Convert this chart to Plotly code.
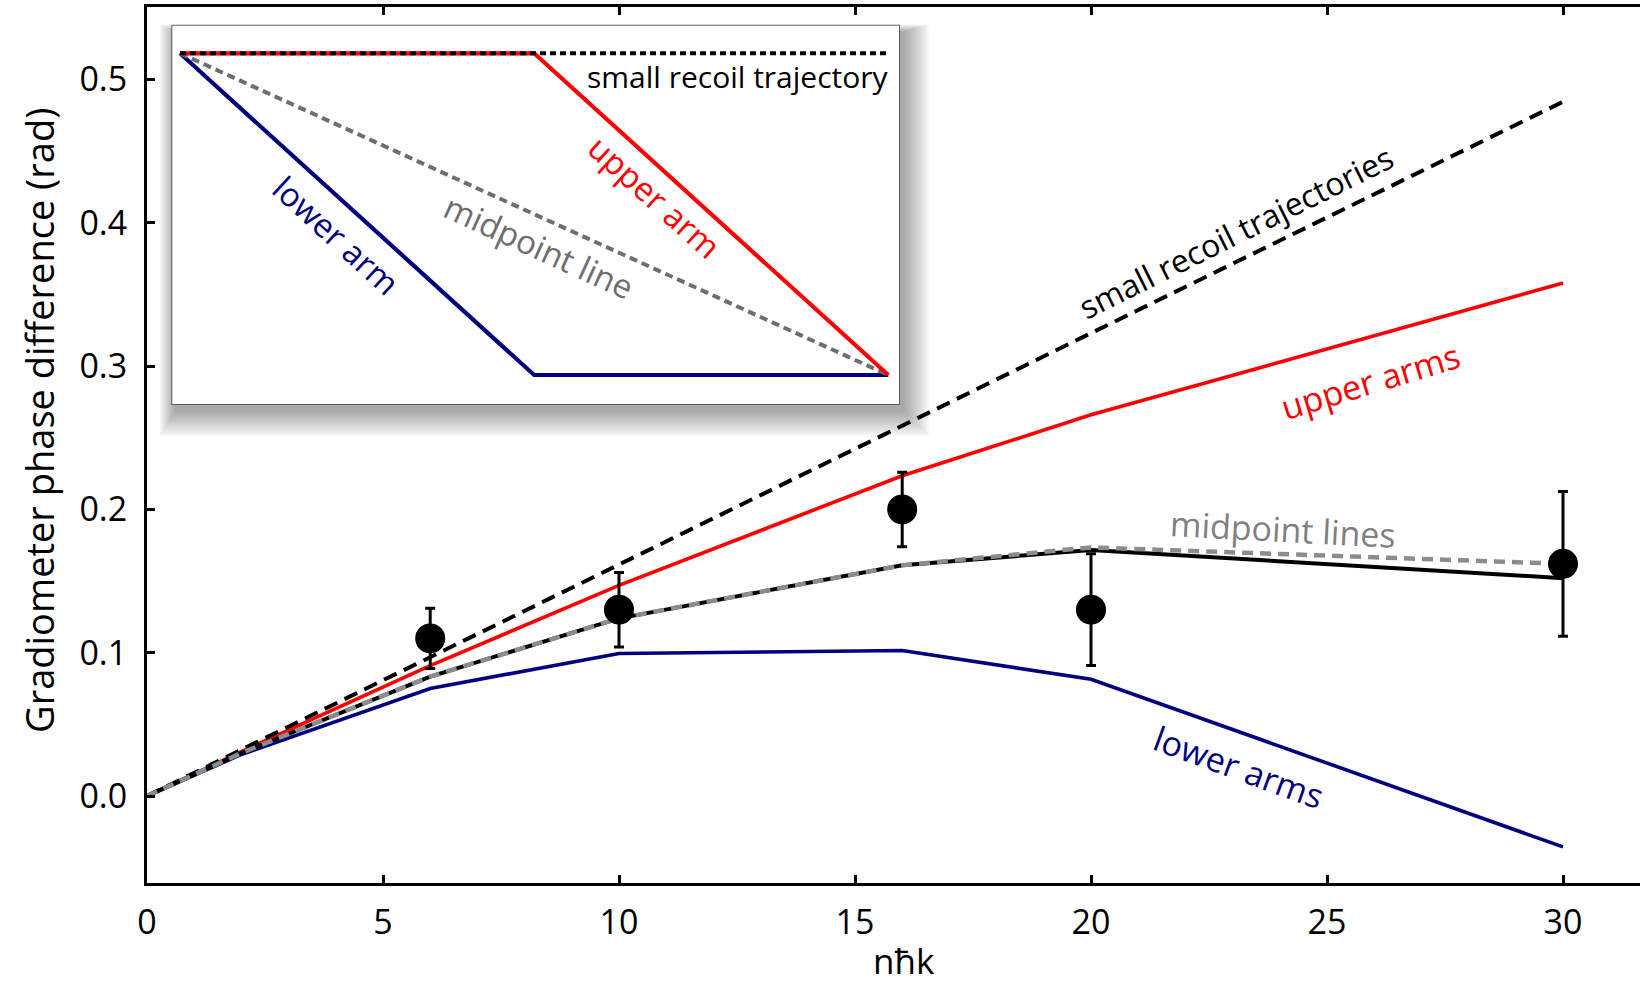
import plotly.graph_objects as go

# ---------------- data ----------------
n_hk = [0, 2, 6, 10, 16, 20, 30]
small_recoil = [0, 0.0323, 0.0969, 0.1615, 0.2584, 0.3230, 0.4845]
upper_arms = [0, 0.031, 0.091, 0.147, 0.2235, 0.266, 0.358]
lower_arms = [0, 0.029, 0.075, 0.0995, 0.1015, 0.0815, -0.0355]
midpoint_full = [0, 0.030, 0.0833, 0.124, 0.161, 0.1717, 0.152]
midpoint_lines = [0, 0.030, 0.0833, 0.124, 0.161, 0.1735, 0.162]

exp_n = [6, 10, 16, 20, 30]
exp_phase = [0.110, 0.130, 0.200, 0.130, 0.162]
exp_err = [0.021, 0.026, 0.026, 0.039, 0.0505]

x_ticks = [0, 5, 10, 15, 20, 25, 30]
y_ticks = [0.0, 0.1, 0.2, 0.3, 0.4, 0.5]

# inset schematic (time, height)
inset_t = [0, 0.5, 1]
inset_upper = [1, 1, 0]
inset_lower = [1, 0, 0]
inset_line_t = [0, 1]
inset_mid = [1, 0]
inset_small = [1, 1]

# ---------------- layout geometry ----------------
W, H = 1640, 986
ML, MR, MT, MB = 147, 0, 7, 103
PW, PH = W - ML - MR, H - MT - MB

def px_x(p):
    return (p - ML) / PW

def px_y(p):
    return (H - MB - p) / PH

FONT = "Open Sans"
RED = "#ff0000"
NAVY = "#000080"
GRAY = "#8c8c8c"
IGRAY = "#6e6e6e"

fig = go.Figure()

# main curves
fig.add_trace(go.Scatter(x=n_hk, y=lower_arms, mode="lines",
                         line=dict(color=NAVY, width=3.6), hoverinfo="skip"))
fig.add_trace(go.Scatter(x=n_hk, y=upper_arms, mode="lines",
                         line=dict(color=RED, width=3.6), hoverinfo="skip"))
fig.add_trace(go.Scatter(x=n_hk, y=small_recoil, mode="lines",
                         line=dict(color="black", width=4, dash="14px,8px"), hoverinfo="skip"))
fig.add_trace(go.Scatter(x=n_hk, y=midpoint_full, mode="lines",
                         line=dict(color="black", width=4), hoverinfo="skip"))
fig.add_trace(go.Scatter(x=n_hk, y=midpoint_lines, mode="lines",
                         line=dict(color=GRAY, width=4.5, dash="11px,7px"), hoverinfo="skip"))
fig.add_trace(go.Scatter(x=exp_n, y=exp_phase, mode="markers",
                         marker=dict(color="black", size=30),
                         error_y=dict(type="data", array=exp_err, color="black",
                                      thickness=3, width=5),
                         hoverinfo="skip"))

# inset traces
fig.add_trace(go.Scatter(x=inset_t, y=inset_lower, mode="lines", xaxis="x2", yaxis="y2",
                         line=dict(color=NAVY, width=4.2), hoverinfo="skip"))
fig.add_trace(go.Scatter(x=inset_line_t, y=inset_mid, mode="lines", xaxis="x2", yaxis="y2",
                         line=dict(color=IGRAY, width=4, dash="8px,5px"), hoverinfo="skip"))
fig.add_trace(go.Scatter(x=inset_t, y=inset_upper, mode="lines", xaxis="x2", yaxis="y2",
                         line=dict(color=RED, width=4.2), hoverinfo="skip"))
fig.add_trace(go.Scatter(x=inset_line_t, y=inset_small, mode="lines", xaxis="x2", yaxis="y2",
                         line=dict(color="black", width=4, dash="6px,4px"), hoverinfo="skip"))

# inset box geometry (pixels)
BL, BR, BT, BB = 172.3, 899.0, 25.7, 404.0
IX0, IX1 = 180.0, 888.3   # schematic t=0 / t=1
IY1, IY0 = 53.3, 375.0    # schematic h=1 / h=0
sx = (IX1 - IX0)
sy = (IY0 - IY1)
x2_range = [(BL - IX0) / sx, (BR - IX0) / sx]
y2_range = [-(BB - IY0) / sy, 1 + (IY1 - BT) / sy]

shapes = []
# soft drop shadow
for i in range(12):
    g = i * 2.2
    shapes.append(dict(type="rect", xref="paper", yref="paper", layer="below",
                       x0=px_x(BL + 2 - g * 0.6), x1=px_x(BR + 6 + g),
                       y0=px_y(BB + 8 + g), y1=px_y(BT + 6 - g * 0.3),
                       line=dict(width=0), fillcolor="rgba(0,0,0,0.032)"))
shapes.append(dict(type="rect", xref="paper", yref="paper", layer="below",
                   x0=px_x(BL), x1=px_x(BR), y0=px_y(BB), y1=px_y(BT),
                   line=dict(color="#5a5a5a", width=2), fillcolor="white"))

annotations = [
    # axis titles
    dict(text="Gradiometer phase difference (rad)", xref="paper", yref="paper",
         x=px_x(39), y=px_y(421), textangle=-90, showarrow=False,
         xanchor="center", yanchor="middle", font=dict(family=FONT, size=38, color="black")),
    dict(text="nħk", xref="paper", yref="paper", x=px_x(904), y=px_y(961),
         showarrow=False, xanchor="center", yanchor="middle",
         font=dict(family=FONT, size=35, color="black")),
    # main curve labels
    dict(text="small recoil trajectories", x=23.08, y=0.3936, textangle=-26.5,
         showarrow=False, font=dict(family=FONT, size=32, color="black")),
    dict(text="upper arms", x=25.92, y=0.2896, textangle=-17,
         showarrow=False, font=dict(family=FONT, size=34, color=RED)),
    dict(text="midpoint lines", x=24.07, y=0.1863, textangle=3,
         showarrow=False, font=dict(family=FONT, size=34, color="#808080")),
    dict(text="lower arms", x=23.14, y=0.0202, textangle=20,
         showarrow=False, font=dict(family=FONT, size=34, color=NAVY)),
    # inset labels
    dict(text="small recoil trajectory", xref="x2", yref="y2",
         x=(891 - IX0) / sx, y=1 - (76 - IY1) / sy, xanchor="right", yanchor="middle",
         showarrow=False, font=dict(family=FONT, size=30, color="black")),
    dict(text="upper arm", xref="x2", yref="y2", x=0.670, y=0.555, textangle=42,
         showarrow=False, font=dict(family=FONT, size=33, color=RED)),
    dict(text="lower arm", xref="x2", yref="y2", x=0.221, y=0.434, textangle=42.5,
         showarrow=False, font=dict(family=FONT, size=33, color=NAVY)),
    dict(text="midpoint line", xref="x2", yref="y2", x=0.506, y=0.398, textangle=24.5,
         showarrow=False, font=dict(family=FONT, size=33, color=IGRAY)),
]

fig.update_layout(
    width=W, height=H,
    margin=dict(l=ML, r=MR, t=MT, b=MB, pad=0),
    paper_bgcolor="white", plot_bgcolor="white",
    showlegend=False,
    font=dict(family=FONT, color="black"),
    xaxis=dict(range=[0, PW / 47.2], tickvals=x_ticks, ticktext=[str(v) for v in x_ticks],
               ticks="inside", ticklen=8, tickwidth=3, tickcolor="black",
               showline=True, linewidth=3, linecolor="black", mirror="ticks",
               showgrid=False, zeroline=False,
               tickfont=dict(family=FONT, size=34, color="black"), ticklabelstandoff=7),
    yaxis=dict(range=[-0.0607, 0.5506], tickvals=y_ticks,
               ticktext=[f"{v:.1f}" for v in y_ticks],
               ticks="inside", ticklen=8, tickwidth=3, tickcolor="black",
               showline=True, linewidth=3, linecolor="black", mirror=False,
               showgrid=False, zeroline=False,
               tickfont=dict(family=FONT, size=34, color="black"), ticklabelstandoff=10),
    xaxis2=dict(domain=[px_x(BL), px_x(BR)], range=x2_range, anchor="y2", visible=False,
                showgrid=False, zeroline=False),
    yaxis2=dict(domain=[px_y(BB), px_y(BT)], range=y2_range, anchor="x2", visible=False,
                showgrid=False, zeroline=False),
    shapes=shapes,
    annotations=annotations,
)

fig.write_html("out.html")
